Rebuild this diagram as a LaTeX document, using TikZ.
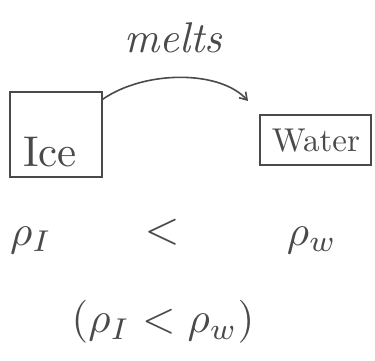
\documentclass[tikz,border=0pt]{standalone}
\usepackage{graphicx}
\usetikzlibrary{arrows.meta}
\definecolor{ink}{HTML}{4A4A4A}
\begin{document}
\begin{tikzpicture}[x=1pt,y=-1pt,
  box/.style={draw=ink,line width=1.6pt,inner sep=0pt},
  hand/.style={text=ink,inner sep=0pt},
  conn/.style={draw=ink,line width=1.6pt,-{Straight Barb[length=7pt,width=9pt]}}]
\useasboundingbox (0,0) rectangle (375,360);
\node[box,minimum width=92pt,minimum height=85pt] (ice) at (56,134.5) {};
\node[hand] (icetext) at (50,152) {\scalebox{4.3}{Ice}};
\node[box,minimum width=111pt,minimum height=50pt] (water) at (315.5,140) {};
\node[hand] (watertext) at (316,141) {\scalebox{3.3}{Water}};
\node[hand] (melts) at (173,38) {\scalebox{4.3}{\itshape melts}};
\coordinate (tip) at (248,101);
\draw[conn] ([yshift=-8pt]ice.north east) .. controls (145,70) and (220,70) .. (tip);
\node[hand] (rhoI) at (31,240) {\scalebox{4.3}{$\rho_I$}};
\node[hand] (lt) at (162,232) {\scalebox{4.5}{$<$}};
\node[hand] (rhoW) at (312,240) {\scalebox{4.3}{$\rho_w$}};
\node[hand] (rel) at (163,322) {\scalebox{4.3}{$(\rho_I<\rho_w)$}};
\end{tikzpicture}
\end{document}
